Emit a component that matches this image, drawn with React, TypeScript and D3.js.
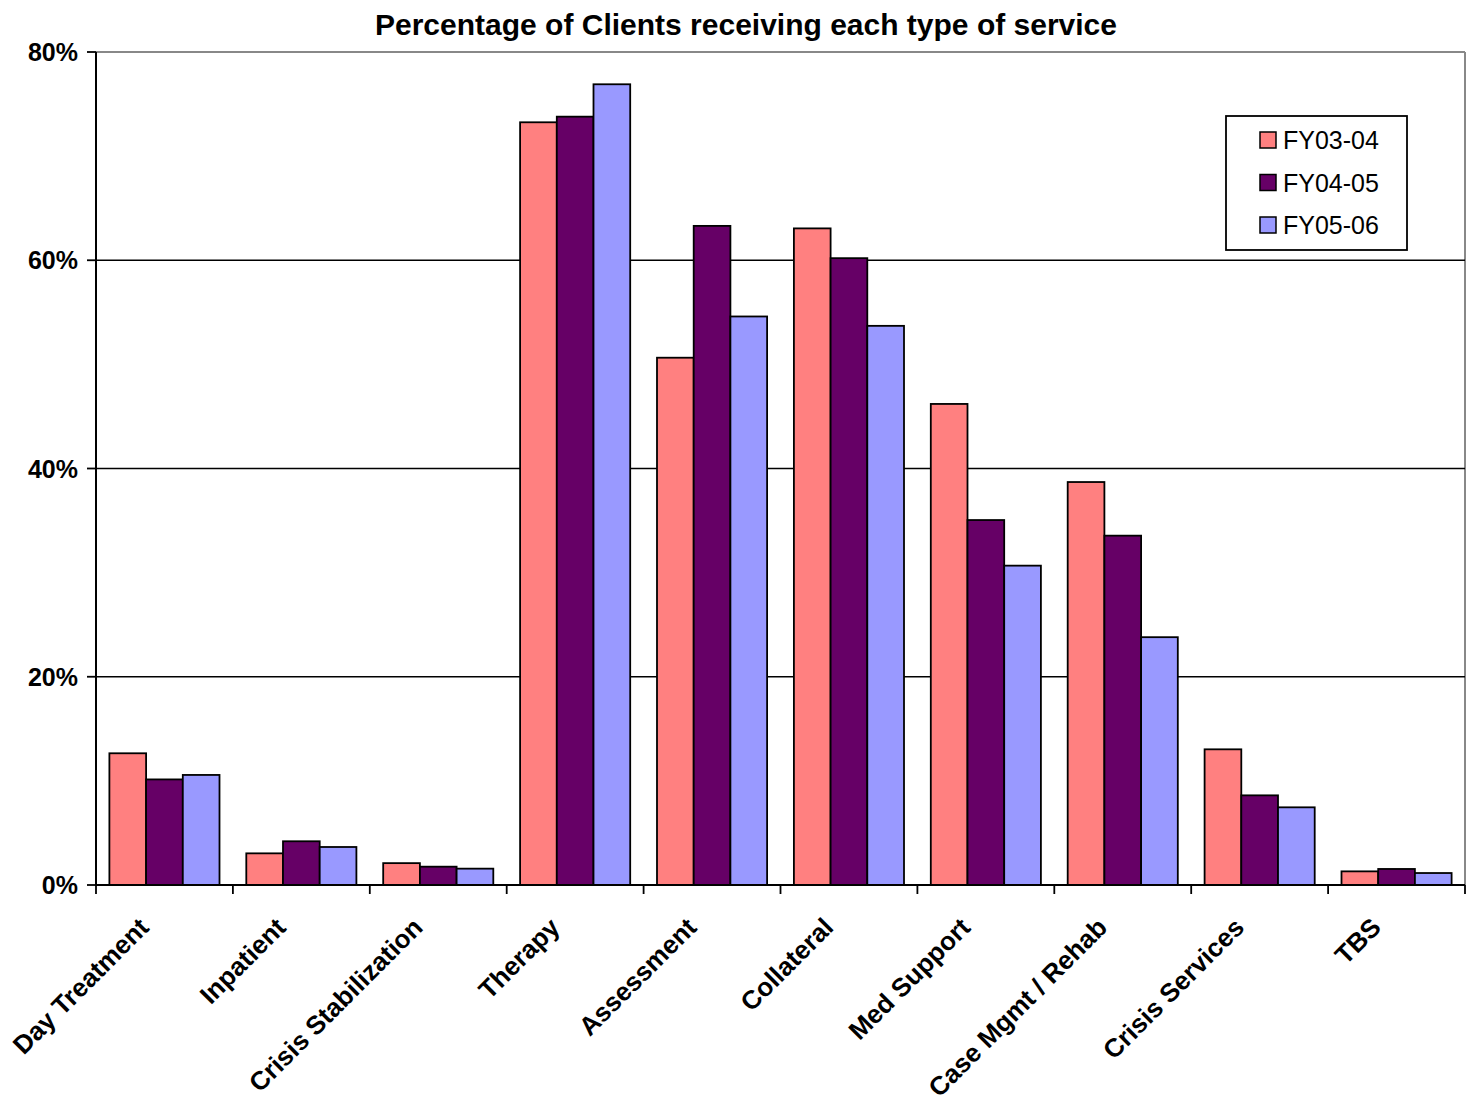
import React from "react";
import * as d3 from "d3";

const categories = [
  "Day Treatment",
  "Inpatient",
  "Crisis Stabilization",
  "Therapy",
  "Assessment",
  "Collateral",
  "Med Support",
  "Case Mgmt / Rehab",
  "Crisis Services",
  "TBS",
];

const seriesNames = ["FY03-04", "FY04-05", "FY05-06"];
const seriesColors = ["#FF8080", "#660066", "#9999FF"];

// percentages of clients per service type
const fy0304 = [12.65, 3.04, 2.1, 73.25, 50.64, 63.06, 46.2, 38.7, 13.03, 1.31];
const fy0405 = [10.14, 4.2, 1.76, 73.79, 63.3, 60.2, 35.05, 33.55, 8.61, 1.54];
const fy0506 = [10.57, 3.65, 1.57, 76.9, 54.6, 53.7, 30.67, 23.8, 7.46, 1.15];

const yTicks = [0, 20, 40, 60, 80];

const W = 1471;
const H = 1097;
const left = 96;
const right = 1465;
const top = 52;
const bottom = 885;

export default function App() {
  const values = [fy0304, fy0405, fy0506];
  const x0 = d3.scaleBand<string>().domain(categories).range([left, right]).padding(0);
  const x1 = d3
    .scaleBand<string>()
    .domain(seriesNames)
    .range([0, x0.bandwidth()])
    .paddingInner(0)
    .paddingOuter(0.365);
  const y = d3.scaleLinear().domain([0, 80]).range([bottom, top]);

  const font = "'Liberation Sans', Arial, sans-serif";

  return (
    <svg
      width={W}
      height={H}
      style={{ position: "absolute", left: 0, top: 0, background: "#fff" }}
      fontFamily={font}
    >
      <rect x={0} y={0} width={W} height={H} fill="#fff" />
      {/* title */}
      <text x={746} y={35} textAnchor="middle" fontSize={30} fontWeight="bold" fill="#000">
        Percentage of Clients receiving each type of service
      </text>

      {/* plot frame (top and right) */}
      <line x1={left} x2={right} y1={top} y2={top} stroke="#888" strokeWidth={2} />
      <line x1={right} x2={right} y1={top} y2={bottom} stroke="#888" strokeWidth={2} />

      {/* gridlines */}
      {yTicks
        .filter((t) => t > 0 && t < 80)
        .map((t) => (
          <line key={t} x1={left} x2={right} y1={y(t)} y2={y(t)} stroke="#000" strokeWidth={1.6} />
        ))}

      {/* bars */}
      {values.map((vals, si) =>
        vals.map((v, ci) => (
          <rect
            key={`${si}-${ci}`}
            x={(x0(categories[ci]) as number) + (x1(seriesNames[si]) as number)}
            y={y(v)}
            width={x1.bandwidth()}
            height={bottom - y(v)}
            fill={seriesColors[si]}
            stroke="#000"
            strokeWidth={1.8}
          />
        ))
      )}

      {/* y axis */}
      <line x1={left} x2={left} y1={top} y2={bottom} stroke="#000" strokeWidth={2} />
      {yTicks.map((t) => (
        <g key={t}>
          <line x1={left - 9} x2={left} y1={y(t)} y2={y(t)} stroke="#000" strokeWidth={1.8} />
          <text
            x={78}
            y={y(t)}
            dy="0.36em"
            textAnchor="end"
            fontSize={25}
            fontWeight="bold"
            fill="#000"
          >
            {t}%
          </text>
        </g>
      ))}

      {/* x axis */}
      <line x1={left} x2={right} y1={bottom} y2={bottom} stroke="#000" strokeWidth={2} />
      {categories.map((c) => (
        <line
          key={c}
          x1={x0(c) as number}
          x2={x0(c) as number}
          y1={bottom}
          y2={bottom + 9}
          stroke="#000"
          strokeWidth={1.8}
        />
      ))}
      <line x1={right} x2={right} y1={bottom} y2={bottom + 9} stroke="#000" strokeWidth={1.8} />
      {categories.map((c) => {
        const cx = (x0(c) as number) + x0.bandwidth() / 2 - 14;
        const cy = 929;
        return (
          <text
            key={c}
            transform={`translate(${cx},${cy}) rotate(-45)`}
            textAnchor="end"
            fontSize={26}
            fontWeight="bold"
            fill="#000"
          >
            {c}
          </text>
        );
      })}

      {/* legend */}
      <rect x={1226} y={116} width={181} height={134} fill="#fff" stroke="#000" strokeWidth={1.8} />
      {seriesNames.map((s, i) => {
        const cy = 140 + i * 42.5;
        return (
          <g key={s}>
            <rect x={1260} y={cy - 8} width={16} height={16} fill={seriesColors[i]} stroke="#000" strokeWidth={1.5} />
            <text x={1283} y={cy} dy="0.36em" fontSize={25} fill="#000">
              {s}
            </text>
          </g>
        );
      })}
    </svg>
  );
}
